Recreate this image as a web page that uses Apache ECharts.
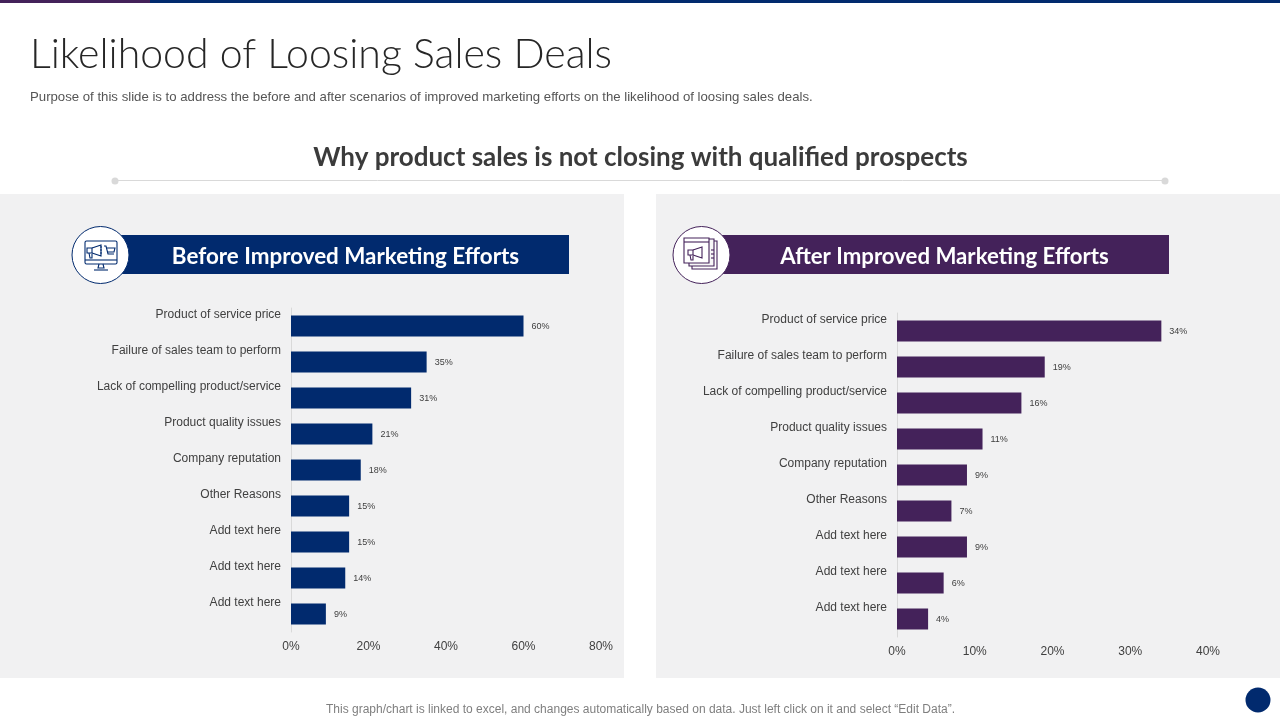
<!DOCTYPE html>
<html>
<head>
<meta charset="utf-8">
<title>Likelihood of Loosing Sales Deals</title>
<style>
html, body { margin: 0; padding: 0; background: #fff; }
#main { width: 1280px; height: 720px; }
</style>
<script src="https://cdn.jsdelivr.net/npm/echarts@6/dist/echarts.min.js"></script>
</head>
<body>
<div id="main"></div>
<script>
var categories = ['Product of service price', 'Failure of sales team to perform', 'Lack of compelling product/service',
    'Product quality issues', 'Company reputation', 'Other Reasons', 'Add text here', 'Add text here', 'Add text here'];
var beforeValues = [60, 35, 31, 21, 18, 15, 15, 14, 9];
var afterValues = [34, 19, 16, 11, 9, 7, 9, 6, 4];
var beforeTitle = 'Before Improved Marketing Efforts';
var afterTitle = 'After Improved Marketing Efforts';

var navy = '#012A6E';
var purple = '#44225A';
var myChart = echarts.init(document.getElementById('main'));

function txt(x, y, text, font, fill, align) {
    return { type: 'text', x: x, y: y, style: { text: text, font: font, fill: fill, align: align || 'left', verticalAlign: 'middle' } };
}
function box(x, y, w, h, fill) {
    return { type: 'rect', shape: { x: x, y: y, width: w, height: h }, style: { fill: fill } };
}
function stroke(type, shape, color) {
    return { type: type, shape: shape, style: { fill: 'none', stroke: color, lineWidth: 1.1 } };
}
function line(points, color) {
    return stroke('polyline', { points: points }, color);
}
// megaphone, placed by its top left corner
function horn(x, y, color) {
    return [
        stroke('rect', { x: x, y: y + 3, width: 5, height: 5 }, color),
        line([[x + 5, y + 3], [x + 14, y], [x + 14, y + 11], [x + 5, y + 8]], color),
        line([[x + 2, y + 8], [x + 3, y + 13], [x + 5, y + 13], [x + 5, y + 9]], color)
    ];
}
function badge(cx, cy, color) {
    return { type: 'circle', shape: { cx: cx, cy: cy, r: 28.5 }, style: { fill: '#fff', stroke: color, lineWidth: 1 } };
}

var shapes = [
    box(0, 0, 150, 3, purple),
    box(150, 0, 1130, 3, navy),
    txt(30, 55, 'Likelihood of Loosing Sales Deals', '300 41px Lato', '#262626'),
    txt(30, 97, 'Purpose of this slide is to address the before and after scenarios of improved marketing efforts on the likelihood of loosing sales deals.', '13.2px "Liberation Sans"', '#555555'),
    txt(640.5, 158, 'Why product sales is not closing with qualified prospects', 'bold 26px Lato', '#3b3b3b', 'center'),
    { type: 'line', shape: { x1: 115, y1: 180.5, x2: 1165, y2: 180.5 }, style: { stroke: '#d9d9d9', lineWidth: 1 } },
    { type: 'circle', shape: { cx: 115, cy: 181, r: 3.5 }, style: { fill: '#d9d9d9' } },
    { type: 'circle', shape: { cx: 1165, cy: 181, r: 3.5 }, style: { fill: '#d9d9d9' } },
    box(0, 194, 624, 484, '#f1f1f2'),
    box(656, 194, 624, 484, '#f1f1f2'),
    box(100, 235, 469, 39, navy),
    box(701, 235, 468, 39, purple),
    txt(345.5, 256.5, beforeTitle, 'bold 22.4px Lato', '#fff', 'center'),
    txt(944.5, 256.5, afterTitle, 'bold 22.2px Lato', '#fff', 'center'),
    badge(100.5, 255, navy),
    badge(701.5, 255, purple),
    // monitor icon
    stroke('rect', { x: 85, y: 241, width: 32, height: 23, r: 1.5 }, navy),
    line([[85, 260], [117, 260]], navy),
    line([[99, 264], [98, 268], [104, 268], [103, 264]], navy),
    line([[94, 270], [108, 270]], navy),
    line([[104, 246], [106, 246], [108, 254], [114, 254]], navy),
    line([[107, 248], [115, 248], [114, 252], [108, 252]], navy),
    line([[100, 247], [102, 247]], navy),
    line([[100, 250], [102, 250]], navy),
    line([[100, 253], [102, 253]], navy),
    // documents icon
    stroke('rect', { x: 692, y: 241, width: 25, height: 28 }, purple),
    { type: 'rect', shape: { x: 689, y: 239, width: 25, height: 27 }, style: { fill: '#f7f7f7', stroke: purple, lineWidth: 1.1 } },
    { type: 'rect', shape: { x: 684, y: 238, width: 25, height: 25 }, style: { fill: '#fff', stroke: purple, lineWidth: 1.1 } },
    line([[684, 242], [709, 242]], purple),
    line([[711, 250], [714, 250]], purple),
    line([[711, 254], [714, 254]], purple),
    line([[711, 258], [714, 258]], purple),
    txt(640.5, 710, 'This graph/chart is linked to excel, and changes automatically based on data. Just left click on it and select \u201cEdit Data\u201d.', '12px "Liberation Sans"', '#7f7f7f', 'center'),
    { type: 'circle', shape: { cx: 1258, cy: 700, r: 12.5 }, style: { fill: navy } }
].concat(horn(87, 245, navy), horn(688, 247, purple));

function yAxisFor(gridIndex) {
    return {
        type: 'category',
        gridIndex: gridIndex,
        inverse: true,
        data: categories,
        axisLine: { lineStyle: { color: '#d9d9d9' } },
        axisTick: { show: false },
        axisLabel: {
            margin: 10,
            fontFamily: 'Liberation Sans',
            fontSize: 12,
            color: '#404040',
            // labels sit above the middle of their bars
            verticalAlign: 'bottom',
            lineHeight: 22
        }
    };
}
function xAxisFor(gridIndex, max, interval) {
    return {
        type: 'value',
        gridIndex: gridIndex,
        min: 0,
        max: max,
        interval: interval,
        splitLine: { show: false },
        axisLine: { show: false },
        axisTick: { show: false },
        axisLabel: {
            margin: 9,
            formatter: '{value}%',
            fontFamily: 'Liberation Sans',
            fontSize: 12,
            color: '#404040'
        }
    };
}
function barsFor(index, values, color) {
    return {
        type: 'bar',
        xAxisIndex: index,
        yAxisIndex: index,
        data: values,
        barWidth: 21,
        itemStyle: { color: color },
        label: {
            show: true,
            position: 'right',
            distance: 8,
            offset: [0, 1],
            formatter: '{c}%',
            fontFamily: 'Liberation Sans',
            fontSize: 9,
            color: '#404040'
        }
    };
}

myChart.setOption({
    animation: false,
    backgroundColor: '#fff',
    graphic: { elements: shapes },
    grid: [
        { left: 291, top: 308, width: 310, height: 324 },
        { left: 897, top: 313, width: 311, height: 324 }
    ],
    xAxis: [xAxisFor(0, 80, 20), xAxisFor(1, 40, 10)],
    yAxis: [yAxisFor(0), yAxisFor(1)],
    series: [barsFor(0, beforeValues, navy), barsFor(1, afterValues, purple)]
});
</script>
</body>
</html>
